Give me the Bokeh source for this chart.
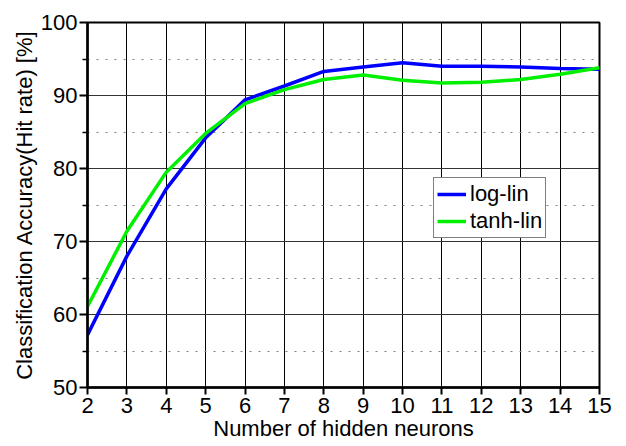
from bokeh.plotting import figure
from bokeh.models import Range1d, FixedTicker, Legend, LegendItem
from bokeh.embed import file_html
from bokeh.resources import INLINE

neurons = [2, 3, 4, 5, 6, 7, 8, 9, 10, 11, 12, 13, 14, 15]
log_lin = [57.2, 68.0, 77.2, 84.2, 89.4, 91.3, 93.3, 93.9, 94.5, 94.0, 94.0, 93.9, 93.7, 93.6]
tanh_lin = [61.1, 71.4, 79.5, 84.8, 88.9, 90.8, 92.2, 92.8, 92.1, 91.7, 91.8, 92.2, 92.9, 93.8]
x_ticks = list(range(2, 16))
y_ticks = [50, 60, 70, 80, 90, 100]
y_minor = [55, 65, 75, 85, 95]

FONT = "Liberation Sans"

p = figure(width=626, height=446, output_backend="svg", toolbar_location=None,
           x_range=Range1d(2, 15), y_range=Range1d(50, 100))
p.min_border_left = 87
p.min_border_right = 27
p.min_border_top = 22
p.min_border_bottom = 59
p.background_fill_color = "white"
p.border_fill_color = "white"
p.outline_line_color = "black"
p.outline_line_width = 2

p.xaxis.ticker = FixedTicker(ticks=x_ticks)
p.yaxis.ticker = FixedTicker(ticks=y_ticks, minor_ticks=y_minor)
p.xgrid.ticker = FixedTicker(ticks=x_ticks)
p.ygrid.ticker = FixedTicker(ticks=y_ticks, minor_ticks=y_minor)

p.xgrid.grid_line_color = "black"
p.xgrid.grid_line_width = 1
p.ygrid.grid_line_color = "#333333"
p.ygrid.grid_line_width = 1
p.ygrid.minor_grid_line_color = "#808080"
p.ygrid.minor_grid_line_dash = "2 7"
p.ygrid.minor_grid_line_width = 1

for ax in (p.xaxis, p.yaxis):
    ax.axis_line_width = 2.5
    ax.axis_line_color = "black"
    ax.major_tick_line_width = 2
    ax.major_tick_line_color = "black"
    ax.major_tick_in = 0
    ax.major_label_text_font = FONT
    ax.major_label_text_font_size = "22px"
    ax.major_label_text_color = "black"
    ax.axis_label_text_font = FONT
    ax.axis_label_text_font_size = "22px"
    ax.axis_label_text_font_style = "normal"
    ax.axis_label_text_color = "black"

p.xaxis.major_tick_out = 7
p.xaxis.minor_tick_line_color = None
p.xaxis.major_label_standoff = 3
p.xaxis.axis_label_standoff = 0
p.xaxis.axis_label = "Number of hidden neurons"

p.yaxis.major_tick_out = 8
p.yaxis.minor_tick_out = 5
p.yaxis.minor_tick_in = 0
p.yaxis.minor_tick_line_width = 1.5
p.yaxis.minor_tick_line_color = "black"
p.yaxis.major_label_standoff = 2
p.yaxis.axis_label_standoff = 1
p.yaxis.axis_label = "Classification Accuracy(Hit rate) [%]"

r1 = p.line(neurons, log_lin, line_color="#0000ff", line_width=3.5)
r2 = p.line(neurons, tanh_lin, line_color="#00f000", line_width=3.5)

legend = Legend(items=[LegendItem(label="log-lin", renderers=[r1]),
                       LegendItem(label="tanh-lin", renderers=[r2])],
                location=(346, 149))
legend.border_line_color = "black"
legend.border_line_width = 1
legend.background_fill_color = "white"
legend.background_fill_alpha = 1
legend.padding = 3
legend.spacing = 1
legend.margin = 0
legend.glyph_width = 29
legend.glyph_height = 26
legend.label_height = 26
legend.label_standoff = 4
legend.label_text_font = FONT
legend.label_text_font_size = "22px"
legend.label_text_color = "black"
p.add_layout(legend, "center")

open("out.html", "w").write(file_html(p, INLINE))
